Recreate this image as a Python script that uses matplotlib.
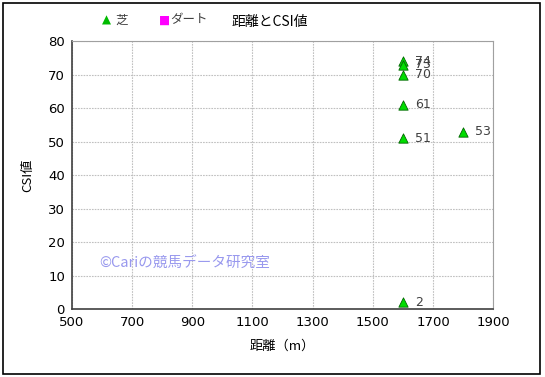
import matplotlib
matplotlib.use("Agg")
from matplotlib import pyplot as plt
from matplotlib.patches import Rectangle

plt.rcParams['font.family'] = ['Noto Sans CJK JP', 'DejaVu Sans']

# data
turf_dist = [1600, 1600, 1600, 1600, 1600, 1600, 1800]
turf_csi = [74, 73, 70, 61, 51, 2, 53]
xticks = [500, 700, 900, 1100, 1300, 1500, 1700, 1900]
yticks = [0, 10, 20, 30, 40, 50, 60, 70, 80]

fig = plt.figure(figsize=(5.45, 3.77), dpi=100)
ax = fig.add_axes([0.132, 0.180, 0.773, 0.711])

ax.scatter(turf_dist, turf_csi, marker='^', s=45, facecolor='#00dd00',
           edgecolor='#006600', linewidth=0.6, zorder=3, clip_on=False)
for x, y in zip(turf_dist, turf_csi):
    ax.text(x + 40, y, str(y), fontsize=9, color='#404040', va='center',
            ha='left', family=['DejaVu Sans'])

ax.set_xlim(500, 1900)
ax.set_ylim(0, 80)
ax.set_xticks(xticks)
ax.set_yticks(yticks)
ax.tick_params(labelsize=9.5, length=0, pad=5)
for lab in ax.get_xticklabels() + ax.get_yticklabels():
    lab.set_family(['DejaVu Sans'])
ax.grid(True, color='#c0c0c0', linestyle=(0, (1.5, 1)), linewidth=0.8)
ax.set_axisbelow(True)
for side in ['top', 'right']:
    ax.spines[side].set_color('#a0a0a0')
for side in ['left', 'bottom']:
    ax.spines[side].set_color('#404040')
    ax.spines[side].set_linewidth(1.2)

ax.set_xlabel('距離（m）', fontsize=9.5, labelpad=8)
ax.set_ylabel('CSI値', fontsize=9.5, labelpad=10)

fig.text(0.495, 0.942, '距離とCSI値', fontsize=10, ha='center', va='center')
# legend at the top
fig.text(0.188, 0.947, '▲', fontsize=8.5, color='#00bb00', ha='left', va='center',
         family=['DejaVu Sans'])
fig.text(0.211, 0.947, '芝', fontsize=9, color='#404040', ha='left', va='center')
fig.text(0.292, 0.947, '■', fontsize=8.5, color='#ff00ff', ha='left', va='center',
         family=['DejaVu Sans'])
fig.text(0.313, 0.947, 'ダート', fontsize=9, color='#404040', ha='left', va='center')

ax.text(590, 13.5, '©Cariの競馬データ研究室', fontsize=10.5, color='#9999ee',
        ha='left', va='center')

fig.patches.append(Rectangle((0.006, 0.008), 0.984, 0.984, transform=fig.transFigure,
                             fill=False, edgecolor='black', linewidth=1.2))

fig.savefig('out.png', dpi=100)
